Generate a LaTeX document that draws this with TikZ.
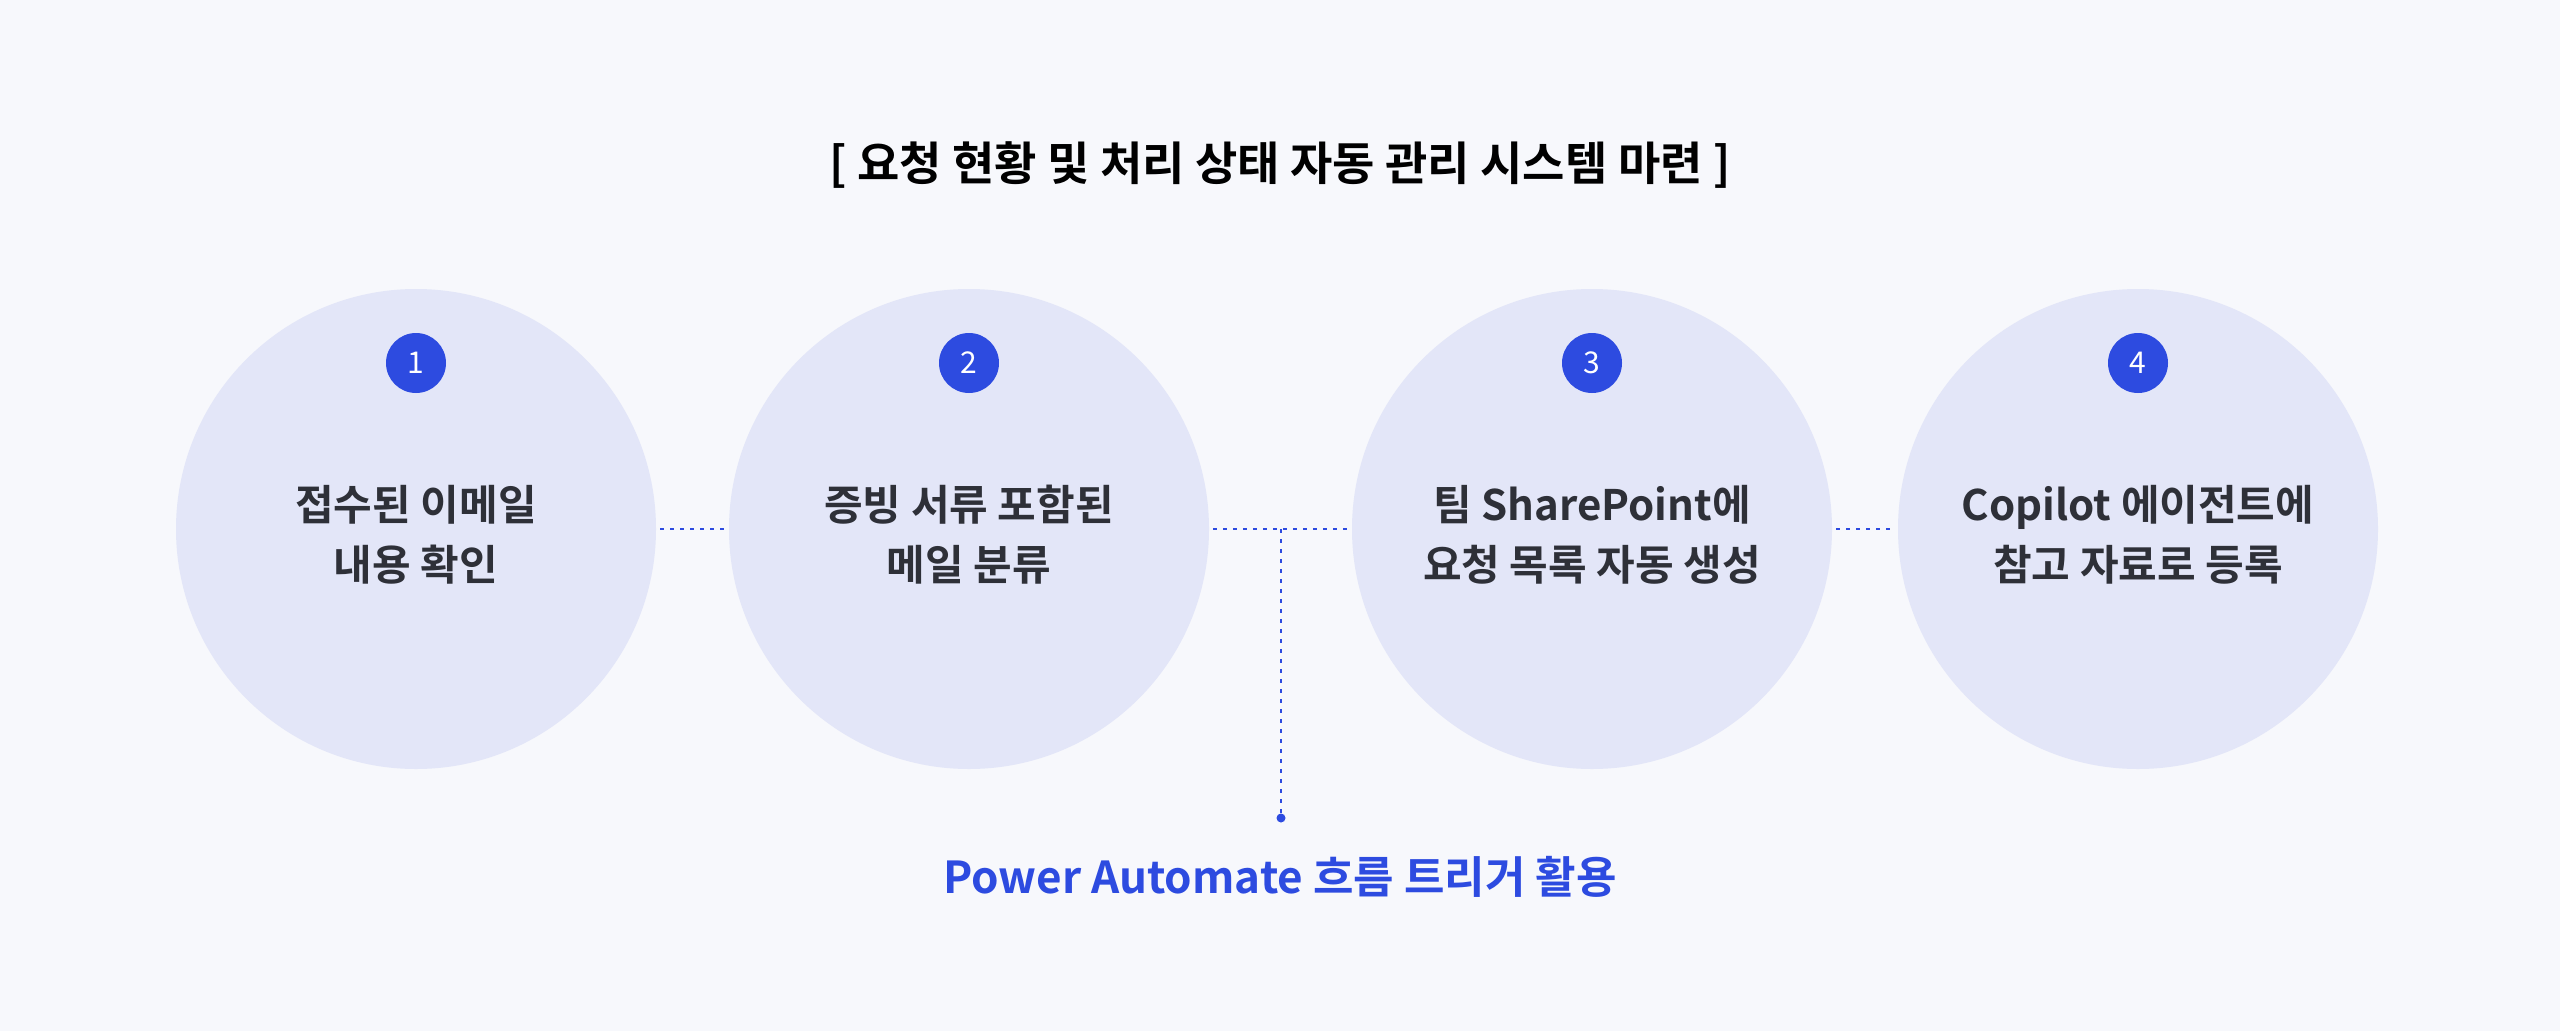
\documentclass[tikz,border=0pt]{standalone}
\usepackage{fontspec}
\setmainfont{Noto Sans CJK KR}[BoldFont={* Bold}]
\begin{document}
\begin{tikzpicture}[x=1pt,y=-1pt,
  circ/.style={circle,fill=circfill,minimum size=480pt,inner sep=0pt},
  badge/.style={circle,fill=accent,minimum size=60pt,inner sep=0pt,text=white,font=\fontsize{30}{30}\selectfont},
  lab/.style={align=center,font=\fontsize{42}{60}\selectfont\bfseries,text=txt},
  dl/.style={accent,line width=2.5pt,dash pattern=on 4pt off 6pt}]
\definecolor{bg}{HTML}{F7F8FC}
\definecolor{circfill}{HTML}{E3E6F8}
\definecolor{accent}{HTML}{2D4BE0}
\definecolor{txt}{HTML}{2E3038}
\fill[bg] (0,0) rectangle (2560,1031);
\useasboundingbox (0,0) rectangle (2560,1031);
\node[font=\fontsize{46}{46}\selectfont\bfseries,text=black] (title) at (1280,165) {[ 요청 현황 및 처리 상태 자동 관리 시스템 마련 ]};
\node[circ] (c1) at (416,529) {};
\node[circ] (c2) at (969,529) {};
\node[circ] (c3) at (1592,529) {};
\node[circ] (c4) at (2138,529) {};
\node[badge] (b1) at (416,363) {1};
\node[badge] (b2) at (969,363) {2};
\node[badge] (b3) at (1592,363) {3};
\node[badge] (b4) at (2138,363) {4};
\node[lab] (t1) at (416,535) {접수된 이메일\\내용 확인};
\node[lab] (t2) at (969,535) {증빙 서류 포함된\\메일 분류};
\node[lab] (t3) at (1592,535) {팀 SharePoint에\\요청 목록 자동 생성};
\node[lab] (t4) at (2138,535) {Copilot 에이전트에\\참고 자료로 등록};
\draw[dl] (c1.east) ++(4,0) coordinate (a1) -- ([xshift=-4pt]c2.west);
\draw[dl] ([xshift=4pt]c2.east) -- ([xshift=-4pt]c3.west);
\draw[dl] ([xshift=4pt]c3.east) -- ([xshift=-4pt]c4.west);
\coordinate (j) at (1281,529);
\node[circle,fill=accent,minimum size=9pt,inner sep=0pt] (dot) at (1281,818) {};
\draw[dl] (j) -- (dot);
\node[font=\fontsize{44}{44}\selectfont\bfseries,text=accent] (pa) at (1280,877) {Power Automate 흐름 트리거 활용};
\end{tikzpicture}
\end{document}
